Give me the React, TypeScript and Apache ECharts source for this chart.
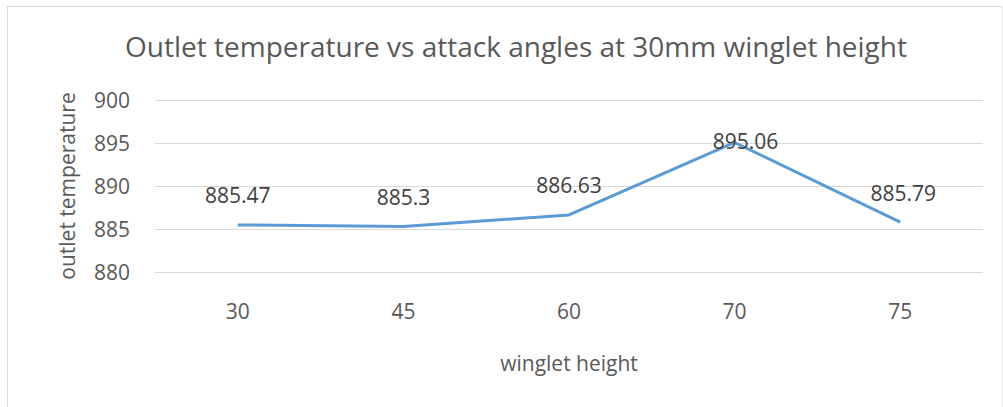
import React, { useEffect, useRef } from "react";
import * as echarts from "echarts";

const categories = ["30", "45", "60", "70", "75"];
const temperatures = [885.47, 885.3, 886.63, 895.06, 885.79];
const labelOffsets = [[0, 0], [0, 0], [0, 0], [11, 28], [3, 0]];
const yTicks = { min: 880, max: 900, interval: 5 };

const FONT = "'Open Sans', 'Noto Sans', sans-serif";

export default function App() {
  const ref = useRef<HTMLDivElement>(null);
  useEffect(() => {
    if (!ref.current) return;
    const chart = echarts.init(ref.current, undefined, { renderer: "svg" });
    chart.setOption({
      animation: false,
      backgroundColor: "#ffffff",
      title: {
        text: "Outlet temperature vs attack angles at 30mm winglet height",
        left: 511,
        top: 27,
        textAlign: "center",
        textStyle: { fontFamily: FONT, fontSize: 28, fontWeight: "normal", color: "#595959" },
      },
      grid: { left: 155, right: 20, top: 100, bottom: 135, containLabel: false },
      xAxis: {
        type: "category",
        data: categories,
        boundaryGap: true,
        axisLine: { show: false },
        axisTick: { show: false },
        axisLabel: { fontFamily: FONT, fontSize: 21, color: "#595959", margin: 28 },
        name: "winglet height",
        nameLocation: "middle",
        nameGap: 80,
        nameTextStyle: { fontFamily: FONT, fontSize: 21, color: "#595959" },
      },
      yAxis: {
        type: "value",
        min: yTicks.min,
        max: yTicks.max,
        interval: yTicks.interval,
        axisLine: { show: false },
        axisTick: { show: false },
        splitLine: { lineStyle: { color: "#d9d9d9", width: 1 } },
        axisLabel: { fontFamily: FONT, fontSize: 21, color: "#595959", margin: 25 },
        name: "outlet temperature",
        nameLocation: "middle",
        nameGap: 78,
        nameRotate: 90,
        nameTextStyle: { fontFamily: FONT, fontSize: 21, color: "#595959" },
      },
      graphic: [
        { type: "line", shape: { x1: 7.5, y1: 6.5, x2: 1002.5, y2: 6.5 }, style: { stroke: "#d9d9d9", lineWidth: 1 } },
        { type: "line", shape: { x1: 7.5, y1: 6.5, x2: 7.5, y2: 407 }, style: { stroke: "#d9d9d9", lineWidth: 1 } },
        { type: "line", shape: { x1: 1002.5, y1: 6.5, x2: 1002.5, y2: 407 }, style: { stroke: "#eeeeee", lineWidth: 1 } },
      ],
      series: [
        {
          type: "line",
          data: temperatures.map((v, i) => ({
            value: v,
            label: { offset: labelOffsets[i] },
          })),
          symbol: "circle",
          symbolSize: 2,
          showSymbol: true,
          itemStyle: { color: "rgba(91,155,213,0)" },
          lineStyle: { color: "#5b9bd5", width: 3 },
          label: {
            show: true,
            position: "top",
            distance: 18,
            fontFamily: FONT,
            fontSize: 21,
            color: "#404040",
          },
        },
      ],
    });
    return () => chart.dispose();
  }, []);
  return (
    <div
      ref={ref}
      style={{ position: "fixed", left: 0, top: 0, width: 1003, height: 407 }}
    />
  );
}
